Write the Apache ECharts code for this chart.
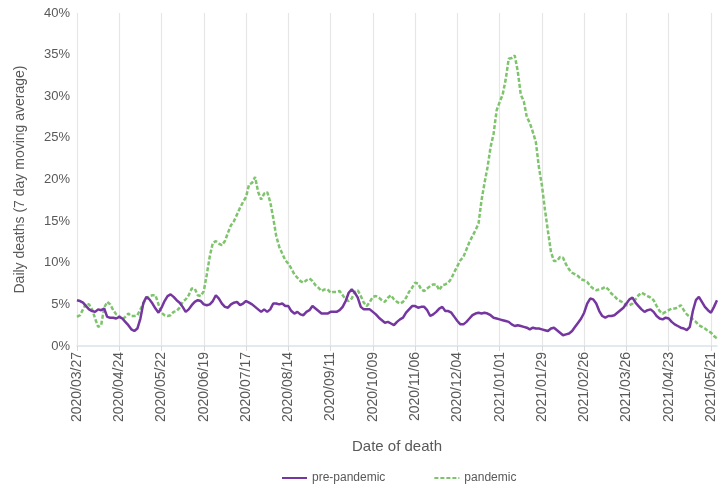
<!DOCTYPE html>
<html>
<head>
<meta charset="utf-8">
<script src="https://cdn.jsdelivr.net/npm/echarts@6/dist/echarts.min.js"></script>
<style>
  html, body { margin: 0; padding: 0; background: #fff; }
  #chart { width: 718px; height: 490px; }
</style>
</head>
<body>
<div id="chart"></div>
<script>
// one point every 2 days, starting 2020/03/27
var startDate = '2020-03-27'
var stepDays = 2

var prePandemic = [
  5.5, 5.4, 5.2, 4.8, 4.4, 4.2, 4.1, 4.4, 4.3, 4.5,
  3.5, 3.4, 3.4, 3.3, 3.5, 3.3, 2.9, 2.5, 2.0, 1.8,
  2.1, 3.3, 5.2, 5.9, 5.6, 5.1, 4.5, 4.0, 4.6, 5.4,
  6.0, 6.2, 5.9, 5.5, 5.2, 4.7, 4.1, 4.4, 4.9, 5.3,
  5.5, 5.4, 5.0, 4.9, 5.0, 5.4, 6.1, 5.7, 5.1, 4.7,
  4.6, 5.0, 5.2, 5.3, 4.9, 5.1, 5.4, 5.2, 5.0, 4.7,
  4.4, 4.1, 4.4, 4.1, 4.4, 5.1, 5.1, 5.0, 5.1, 4.8,
  4.8, 4.2, 3.9, 4.1, 3.8, 3.7, 4.1, 4.3, 4.8, 4.5,
  4.2, 3.9, 3.9, 3.9, 4.1, 4.1, 4.1, 4.3, 4.7, 5.4,
  6.4, 6.8, 6.4, 5.8, 4.7, 4.4, 4.4, 4.4, 4.1, 3.8,
  3.4, 3.1, 2.8, 2.9, 2.7, 2.5, 2.9, 3.2, 3.4, 4.0,
  4.4, 4.8, 4.8, 4.6, 4.7, 4.7, 4.3, 3.6, 3.8, 4.1,
  4.5, 4.7, 4.2, 4.2, 4.0, 3.5, 3.0, 2.6, 2.6, 2.9,
  3.3, 3.7, 3.9, 4.0, 3.9, 4.0, 3.9, 3.7, 3.4, 3.3,
  3.2, 3.1, 3.0, 2.9, 2.6, 2.4, 2.5, 2.4, 2.3, 2.2,
  2.0, 2.2, 2.1, 2.1, 2.0, 1.9, 1.8, 2.1, 2.2, 1.9,
  1.6, 1.3, 1.4, 1.5, 1.8, 2.3, 2.8, 3.3, 4.0, 5.1,
  5.7, 5.6, 5.1, 4.2, 3.6, 3.4, 3.6, 3.6, 3.7, 4.0,
  4.3, 4.6, 5.1, 5.6, 5.8, 5.2, 4.8, 4.4, 4.1, 4.3,
  4.4, 4.1, 3.6, 3.3, 3.2, 3.4, 3.3, 2.9, 2.6, 2.4,
  2.2, 2.1, 1.9, 2.3, 4.2, 5.5, 5.9, 5.3, 4.7, 4.3,
  4.0, 4.7, 5.5
]

var pandemic = [
  3.5, 3.7, 4.4, 5.1, 5.0, 4.4, 3.3, 2.3, 2.5, 4.6,
  5.3, 5.0, 4.3, 3.8, 3.6, 3.2, 3.5, 3.9, 3.6, 3.6,
  3.7, 4.4, 5.1, 5.7, 6.0, 6.1, 6.1, 5.0, 4.0, 3.7,
  3.6, 3.7, 4.1, 4.2, 4.6, 5.3, 5.6, 6.1, 6.9, 6.9,
  6.1, 6.0, 6.6, 8.6, 10.8, 12.4, 12.6, 12.3, 12.1, 12.6,
  13.6, 14.5, 15.0, 15.8, 16.6, 17.3, 17.9, 19.4, 19.6, 20.3,
  18.5, 17.6, 18.3, 18.5, 17.3, 15.4, 13.2, 11.9, 11.1, 10.3,
  9.9, 9.3, 8.6, 8.2, 7.8, 7.6, 7.9, 8.1, 7.8, 7.3,
  7.0, 6.6, 6.8, 6.8, 6.4, 6.5, 6.5, 6.6, 6.1, 5.6,
  5.4, 5.7, 6.5, 6.7, 6.0, 5.2, 4.8, 5.3, 5.9, 6.0,
  5.8, 5.5, 5.3, 5.8, 6.1, 5.6, 5.3, 5.1, 5.3, 5.8,
  6.5, 7.0, 7.6, 7.5, 6.8, 6.6, 6.9, 7.2, 7.4, 7.4,
  6.7, 7.3, 7.4, 7.6, 8.1, 8.9, 9.6, 10.3, 10.7, 11.6,
  12.5, 13.2, 13.9, 14.7, 17.5, 19.6, 21.5, 23.9, 25.5, 28.3,
  29.3, 30.2, 32.0, 34.5, 34.6, 34.9, 33.0, 30.2, 29.4, 27.5,
  26.8, 25.7, 24.5, 21.5, 19.3, 16.4, 13.8, 11.3, 10.2, 10.2,
  10.7, 10.6, 9.8, 9.2, 8.8, 8.6, 8.4, 8.0, 7.9, 7.7,
  7.2, 6.9, 6.7, 6.8, 6.9, 7.1, 6.8, 6.3, 6.0, 5.6,
  5.4, 5.2, 4.9, 4.9, 5.1, 5.6, 6.1, 6.4, 6.2, 6.0,
  5.8, 5.5, 4.8, 4.2, 3.9, 4.1, 4.3, 4.5, 4.5, 4.6,
  4.9, 4.3, 3.8, 3.5, 3.2, 2.9, 2.5, 2.3, 2.1, 1.8,
  1.6, 1.2, 0.9
]

var yTicks = [0, 5, 10, 15, 20, 25, 30, 35, 40]

// date labels for the category axis
var dates = []
var d0 = new Date(startDate + 'T00:00:00Z')
for (var i = 0; i < prePandemic.length; i++) {
  var d = new Date(d0.getTime() + i * stepDays * 86400000)
  var mm = ('0' + (d.getUTCMonth() + 1)).slice(-2)
  var dd = ('0' + d.getUTCDate()).slice(-2)
  dates.push(d.getUTCFullYear() + '/' + mm + '/' + dd)
}

var myChart = echarts.init(document.getElementById('chart'))
var textColor = '#595959'
var fontFam = '"Liberation Sans", Arial, sans-serif'

var option = {
  animation: false,
  grid: { left: 77, right: 1, top: 13, bottom: 144 },
  legend: {
    left: 276,
    bottom: 1,
    itemWidth: 25,
    itemHeight: 10,
    itemGap: 48,
    itemStyle: { opacity: 0 },
    textStyle: { color: textColor, fontSize: 12, fontFamily: fontFam },
    data: ['pre-pandemic', 'pandemic']
  },
  xAxis: {
    type: 'category',
    data: dates,
    boundaryGap: false,
    name: 'Date of death',
    nameLocation: 'middle',
    nameGap: 93,
    nameTextStyle: { color: textColor, fontSize: 15, fontFamily: fontFam },
    axisLine: { lineStyle: { color: '#d9e3ea', width: 1.5 } },
    axisTick: { interval: 13, length: 5, lineStyle: { color: '#d9d9d9' } },
    axisLabel: {
      interval: 13,
      rotate: 90,
      color: textColor,
      fontSize: 14,
      fontFamily: fontFam,
      margin: 6
    },
    splitLine: { show: true, interval: 13, lineStyle: { color: '#e6e6e6', width: 1.2 } }
  },
  yAxis: {
    type: 'value',
    min: yTicks[0],
    max: yTicks[yTicks.length - 1],
    interval: 5,
    name: 'Daily deaths (7 day moving average)',
    nameLocation: 'middle',
    nameGap: 50,
    nameTextStyle: { color: textColor, fontSize: 14, fontFamily: fontFam },
    axisLine: { show: false },
    axisTick: { show: false },
    axisLabel: {
      color: textColor,
      fontSize: 13,
      fontFamily: fontFam,
      margin: 7,
      formatter: '{value}%'
    },
    splitLine: { show: false }
  },
  series: [
    {
      name: 'pre-pandemic',
      type: 'line',
      data: prePandemic,
      symbol: 'none',
      itemStyle: { color: '#7536a0' },
      lineStyle: { color: '#7536a0', width: 2.5 },
      z: 3
    },
    {
      name: 'pandemic',
      type: 'line',
      data: pandemic,
      symbol: 'none',
      itemStyle: { color: '#7ec46c' },
      lineStyle: { color: '#7ec46c', width: 2.5, type: [4, 2] },
      z: 2
    }
  ]
}

myChart.setOption(option)
window.addEventListener('resize', function() {
  myChart.resize()
})
</script>
</body>
</html>
